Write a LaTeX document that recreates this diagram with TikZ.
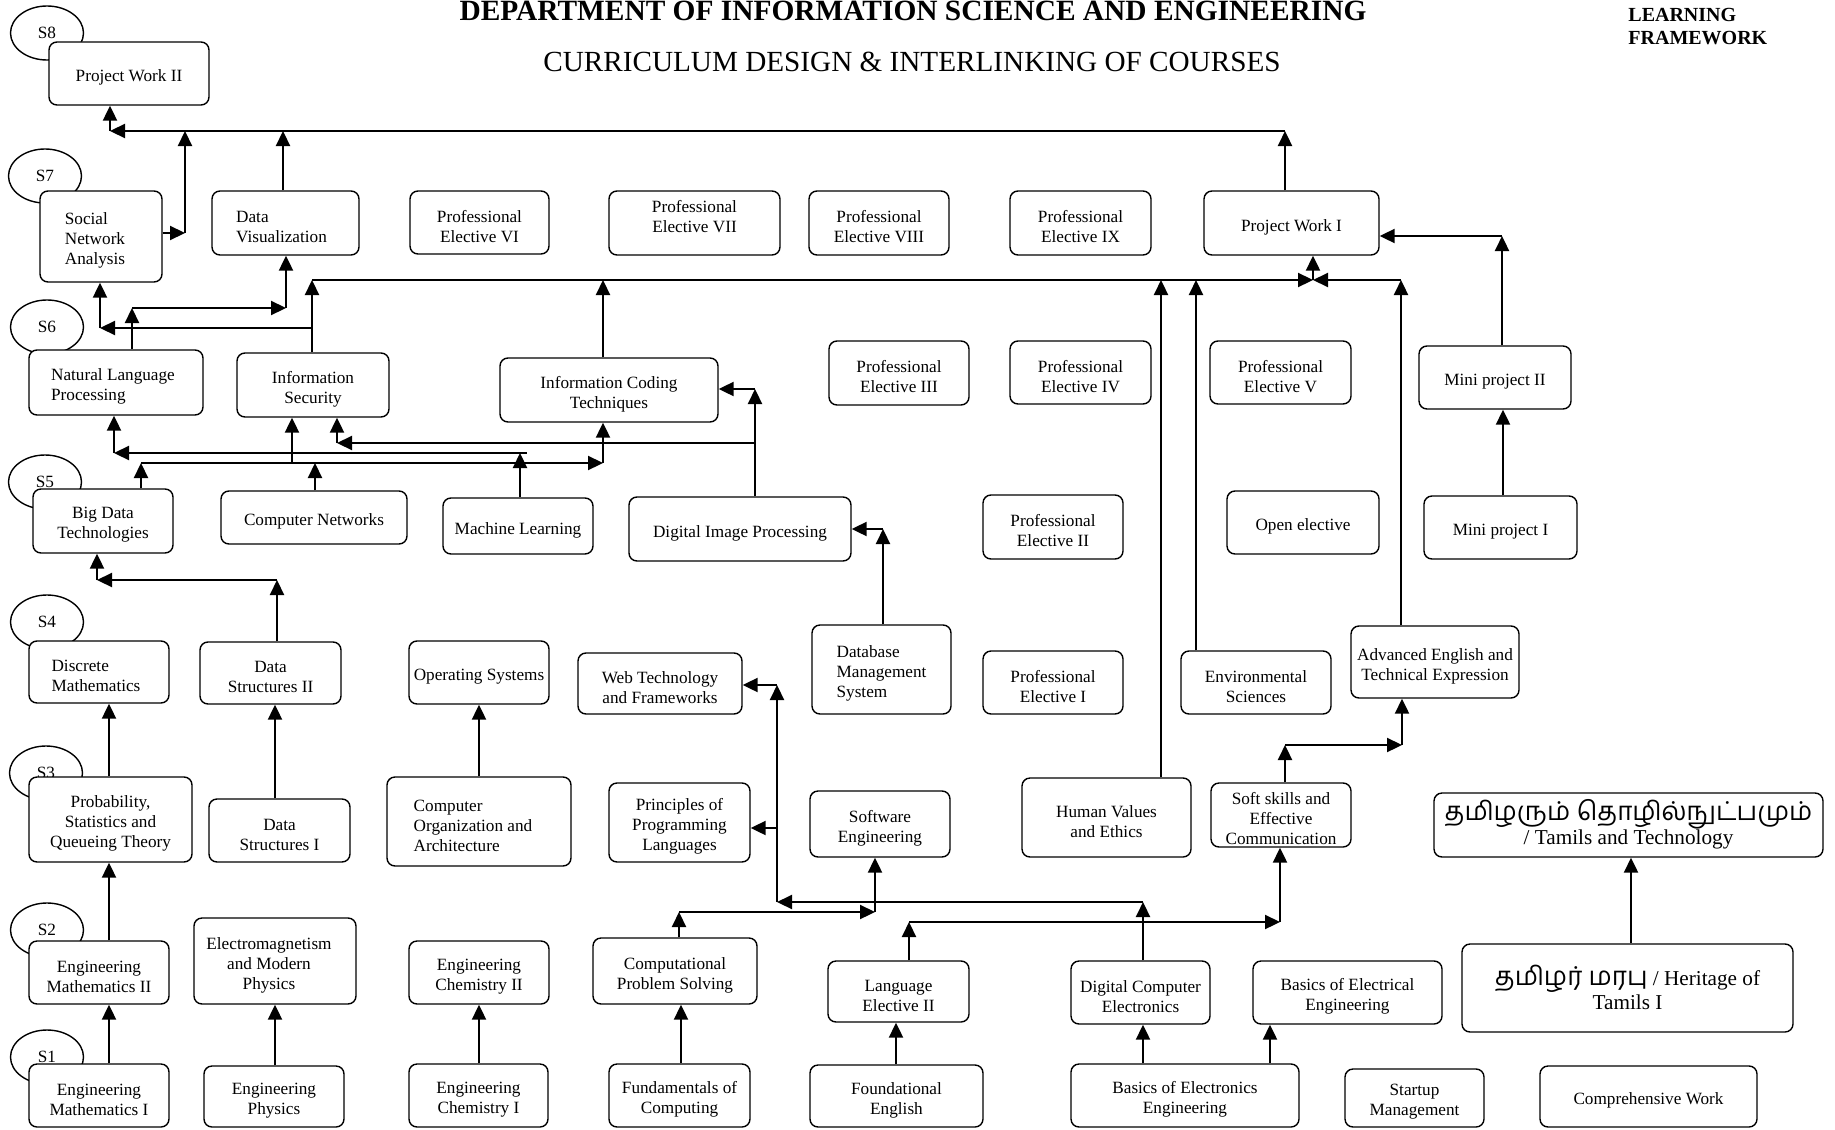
\documentclass[tikz,border=0pt]{standalone}
\usepackage{fontspec}
\setmainfont{Liberation Serif}
\newfontfamily\tamilfont[Script=Tamil]{Hind Madurai}
\usetikzlibrary{arrows.meta,shapes.geometric}
\newcommand\bx[7][]{\node[box,minimum width={(#5-#3)*0.5pt},minimum height={(#6-#4)*0.5pt}] (#2) at ({(#3+#5)/2},{(#4+#6)/2}) {};
  \node[boxtext,#1] (#2t) at ([yshift=-2pt]#2.center) {#7}}
\begin{document}
\begin{tikzpicture}[x=0.5pt,y=-0.5pt,
  box/.style={draw, line width=0.7pt, rounded corners=4pt, fill=white, inner sep=0pt},
  boxtext/.style={align=center, inner sep=0pt, font=\fontsize{8.6}{10}\selectfont},
  sem/.style={draw, ellipse, line width=0.7pt, minimum width=36.5pt, minimum height=27pt, inner sep=0pt, font=\fontsize{8.6}{10}\selectfont},
  conn/.style={line width=1.1pt, -{Triangle[length=7.5pt,width=7pt]}},
  plain/.style={line width=1.1pt}]
\fill[white] (0,0) rectangle (1835,1129);
\useasboundingbox (0,0) rectangle (1835,1129);

% titles
\node[anchor=base, font=\bfseries\fontsize{14.7}{17}\selectfont, inner sep=0pt] (title) at (913,21) {DEPARTMENT OF INFORMATION SCIENCE AND ENGINEERING};
\node[anchor=base, font=\fontsize{14.6}{17}\selectfont, inner sep=0pt] (subtitle) at (912,72) {CURRICULUM DESIGN \& INTERLINKING OF COURSES};
\node[anchor=north west, align=left, font=\bfseries\fontsize{10}{11.25}\selectfont, inner sep=0pt] (lf) at (1628,8) {LEARNING\\FRAMEWORK};

% semester ellipses
\node[sem] (s8) at (47,33) {S8};
\node[sem] (s7) at (45,176) {S7};
\node[sem] (s6) at (47,327) {S6};
\node[sem] (s5) at (45,482) {S5};
\node[sem] (s4) at (47,622) {S4};
\node[sem] (s3) at (46,773) {S3};
\node[sem] (s2) at (47,930) {S2};
\node[sem] (s1) at (47,1057) {S1};

% boxes
\bx{pw2}{49}{42}{209}{105}{Project Work II};
\bx[align=left,xshift=-3pt]{sna}{40}{191}{162}{282}{Social\\Network\\Analysis};
\bx[align=left,xshift=-2pt]{dv}{212}{191}{359}{255}{Data\\Visualization};
\bx{pe6}{410}{191}{549}{254}{Professional\\Elective VI};
\bx[yshift=5pt]{pe7}{609}{191}{780}{255}{Professional\\Elective VII};
\bx{pe8}{809}{191}{949}{255}{Professional\\Elective VIII};
\bx{pe9}{1010}{191}{1151}{255}{Professional\\Elective IX};
\bx{pw1}{1204}{191}{1379}{255}{Project Work I};
\bx[align=left,xshift=-1.5pt]{nlp}{29}{350}{203}{415}{Natural Language\\Processing};
\bx{isec}{237}{353}{389}{417}{Information\\Security};
\bx{ict}{500}{358}{718}{422}{Information Coding\\Techniques};
\bx{pe3}{829}{341}{969}{405}{Professional\\Elective III};
\bx{pe4}{1010}{341}{1151}{404}{Professional\\Elective IV};
\bx{pe5}{1210}{341}{1351}{404}{Professional\\Elective V};
\bx{mp2}{1419}{346}{1571}{409}{Mini project II};
\bx{bdt}{33}{489}{173}{553}{Big Data\\Technologies};
\bx{cn}{221}{491}{407}{544}{Computer Networks};
\bx{ml}{443}{498}{593}{554}{Machine Learning};
\bx{dip}{629}{497}{851}{561}{Digital Image Processing};
\bx{pe2}{983}{495}{1123}{559}{Professional\\Elective II};
\bx{oe}{1227}{491}{1379}{554}{Open elective};
\bx{mp1}{1424}{496}{1577}{559}{Mini project I};
\bx[align=left,xshift=-1.5pt]{dm}{29}{641}{169}{703}{Discrete\\Mathematics};
\bx{ds2}{200}{642}{341}{704}{Data\\Structures II};
\bx{os}{409}{641}{549}{704}{Operating Systems};
\bx{wt}{578}{653}{742}{714}{Web Technology\\and Frameworks};
\bx[align=left]{dbms}{812}{625}{951}{714}{Database\\Management\\System};
\bx{pe1}{983}{651}{1123}{714}{Professional\\Elective I};
\bx{es}{1181}{651}{1331}{714}{Environmental\\Sciences};
\bx{ae}{1351}{626}{1519}{698}{Advanced English and\\Technical Expression};
\bx{pqt}{29}{777}{192}{862}{Probability,\\Statistics and\\Queueing Theory};
\bx{ds1}{209}{799}{350}{862}{Data\\Structures I};
\bx[align=left,xshift=-3pt]{coa}{387}{777}{571}{866}{Computer\\Organization and\\Architecture};
\bx{ppl}{609}{783}{750}{862}{Principles of\\Programming\\Languages};
\bx{se}{810}{791}{950}{857}{Software\\Engineering};
\bx{hve}{1022}{778}{1191}{857}{Human Values\\and Ethics};
\bx{ss}{1211}{783}{1351}{847}{Soft skills and\\Effective\\Communication};
\bx[font=\fontsize{10.6}{12}\selectfont,yshift=2.5pt]{tt}{1434}{793}{1823}{857}{{\tamilfont\fontsize{13}{12}\selectfont தமிழரும் தொழில்நுட்பமும்}\\/ Tamils and Technology};
\bx{em2}{29}{941}{169}{1004}{Engineering\\Mathematics II};
\bx[xshift=-3pt]{emp}{194}{918}{356}{1004}{Electromagnetism\\and Modern\\Physics};
\bx{ec2}{409}{941}{549}{1004}{Engineering\\Chemistry II};
\bx{cps}{593}{938}{757}{1004}{Computational\\Problem Solving};
\bx{le2}{828}{961}{969}{1022}{Language\\Elective II};
\bx{dce}{1071}{961}{1210}{1024}{Digital Computer\\Electronics};
\bx{beee}{1253}{961}{1442}{1024}{Basics of Electrical\\Engineering};
\bx[font=\fontsize{10.6}{12}\selectfont,yshift=2.5pt]{ht}{1462}{944}{1793}{1032}{{\tamilfont\fontsize{13}{12}\selectfont தமிழர் மரபு} / Heritage of\\Tamils I};
\bx{em1}{29}{1064}{169}{1127}{Engineering\\Mathematics I};
\bx{ep}{204}{1066}{344}{1127}{Engineering\\Physics};
\bx{ec1}{409}{1064}{548}{1127}{Engineering\\Chemistry I};
\bx{foc}{609}{1064}{750}{1127}{Fundamentals of\\Computing};
\bx{fe}{810}{1065}{983}{1127}{Foundational\\English};
\bx{bele}{1071}{1064}{1299}{1127}{Basics of Electronics\\Engineering};
\bx{sm}{1345}{1069}{1484}{1127}{Startup\\Management};
\bx{cw}{1540}{1066}{1757}{1127}{Comprehensive Work};

% bend points
\coordinate (a1) at (1285,131); \coordinate (a2) at (110,131);
\coordinate (b1) at (185,233);
\coordinate (c1) at (283,131);
\coordinate (d1) at (132,308); \coordinate (d2) at (286,308);
\coordinate (e1) at (312,328); \coordinate (e2) at (100,328);
\coordinate (e3) at (312,280); \coordinate (e4) at (1313,280);
\coordinate (f1) at (603,280);
\coordinate (g1) at (1161,280);
\coordinate (h1) at (1196,280);
\coordinate (i1) at (1401,280);
\coordinate (j1) at (1502,236);
\coordinate (l1) at (520,453); \coordinate (l2) at (114,453);
\coordinate (m1) at (141,463); \coordinate (m2) at (603,463);
\coordinate (m3) at (315,463); \coordinate (m4) at (292,463);
\coordinate (n1) at (755,389); \coordinate (n2) at (755,443); \coordinate (n3) at (337,443);
\coordinate (o1) at (883,529);
\coordinate (p1) at (277,580); \coordinate (p2) at (97,580);
\coordinate (t1) at (1143,902); \coordinate (t2) at (777,902);
\coordinate (t3) at (777,685); \coordinate (t4) at (777,828);
\coordinate (u1) at (679,912); \coordinate (u2) at (875,912);
\coordinate (v1) at (909,922); \coordinate (v2) at (1280,922);
\coordinate (w1) at (1285,745); \coordinate (w2) at (1402,745);

% connectors
\draw[conn] (a1 |- pw1.north) -- (a1);
\draw[conn] (a1) -- (a2);
\draw[conn] (a2) -- (a2 |- pw2.south);
\draw[conn] (sna.east |- b1) -- (b1);
\draw[conn] (b1) -- (b1 |- a1);
\draw[conn] (c1 |- dv.north) -- (c1);
\draw[conn] (d1 |- nlp.north) -- (d1);
\draw[conn] (d1) -- (d2);
\draw[conn] (d2) -- (d2 |- dv.south);
\draw[plain] (e1 |- isec.north) -- (e1);
\draw[conn] (e1) -- (e2);
\draw[conn] (e2) -- (e2 |- sna.south);
\draw[conn] (e1) -- (e3);
\draw[conn] (e3) -- (e4);
\draw[conn] (e4) -- (e4 |- pw1.south);
\draw[conn] (f1 |- ict.north) -- (f1);
\draw[conn] (g1 |- hve.north) -- (g1);
\draw[conn] (h1 |- es.north) -- (h1);
\draw[conn] (i1 |- ae.north) -- (i1);
\draw[conn] (i1) -- (e4);
\draw[conn] (j1 |- mp2.north) -- (j1);
\draw[conn] (j1) -- (pw1.east |- j1);
\draw[conn] (1503,0 |- mp1.north) -- (1503,0 |- mp2.south);
\draw[conn] (l1 |- ml.north) -- (l1);
\draw[plain] (l1) -- ++(7,0);
\draw[conn] (l1) -- (l2);
\draw[conn] (l2) -- (l2 |- nlp.south);
\draw[conn] (m1 |- bdt.north) -- (m1);
\draw[conn] (m1) -- (m2);
\draw[conn] (m2) -- (m2 |- ict.south);
\draw[conn] (m3 |- cn.north) -- (m3);
\draw[conn] (m4) -- (m4 |- isec.south);
\draw[conn] (n1 |- dip.north) -- (n1);
\draw[conn] (n1) -- (ict.east |- n1);
\draw[conn] (n2) -- (n3);
\draw[conn] (n3) -- (n3 |- isec.south);
\draw[conn] (o1 |- dbms.north) -- (o1);
\draw[conn] (o1) -- (dip.east |- o1);
\draw[conn] (p1 |- ds2.north) -- (p1);
\draw[conn] (p1) -- (p2);
\draw[conn] (p2) -- (p2 |- bdt.south);
\draw[conn] (109,0 |- pqt.north) -- (109,0 |- dm.south);
\draw[conn] (275,0 |- ds1.north) -- (275,0 |- ds2.south);
\draw[conn] (479,0 |- coa.north) -- (479,0 |- os.south);
\draw[conn] (t1 |- dce.north) -- (t1);
\draw[conn] (t1) -- (t2);
\draw[conn] (t2) -- (t3);
\draw[conn] (t3) -- (wt.east |- t3);
\draw[conn] (t4) -- (ppl.east |- t4);
\draw[conn] (u1 |- cps.north) -- (u1);
\draw[conn] (u1) -- (u2);
\draw[conn] (u2) -- (u2 |- se.south);
\draw[conn] (v1 |- le2.north) -- (v1);
\draw[conn] (v1) -- (v2);
\draw[conn] (v2) -- (v2 |- ss.south);
\draw[conn] (w1 |- ss.north) -- (w1);
\draw[conn] (w1) -- (w2);
\draw[conn] (w2) -- (w2 |- ae.south);
\draw[conn] (109,0 |- em2.north) -- (109,0 |- pqt.south);
\draw[conn] (109,0 |- em1.north) -- (109,0 |- em2.south);
\draw[conn] (275,0 |- ep.north) -- (275,0 |- emp.south);
\draw[conn] (479,0 |- ec1.north) -- (479,0 |- ec2.south);
\draw[conn] (681,0 |- foc.north) -- (681,0 |- cps.south);
\draw[conn] (896,0 |- fe.north) -- (896,0 |- le2.south);
\draw[conn] (1143,0 |- bele.north) -- (1143,0 |- dce.south);
\draw[conn] (1270,0 |- bele.north) -- (1270,0 |- beee.south);
\draw[conn] (1631,0 |- ht.north) -- (1631,0 |- tt.south);
\end{tikzpicture}
\end{document}
